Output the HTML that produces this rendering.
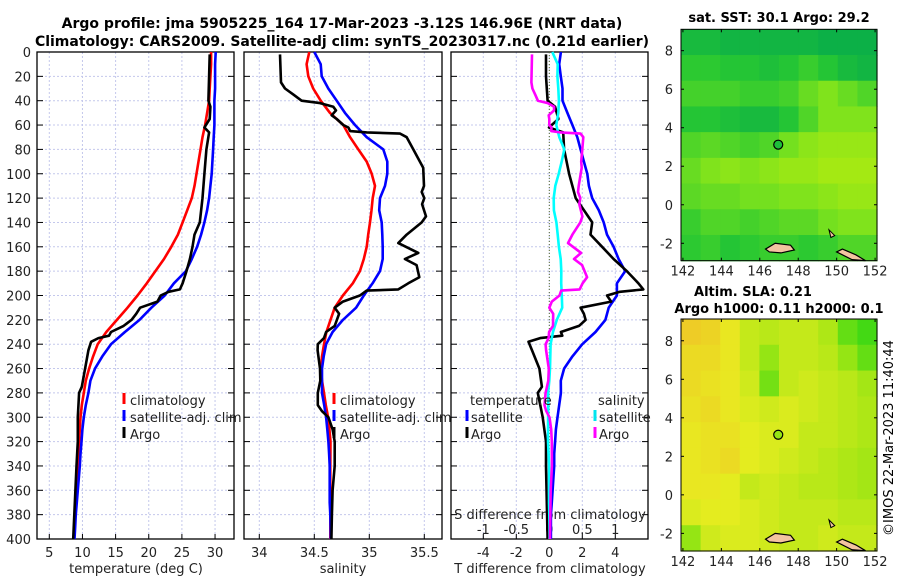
<!DOCTYPE html>
<html><head><meta charset="utf-8">
<style>
html,body{margin:0;padding:0;background:#fff;}
svg{display:block;font-family:"DejaVu Sans","Liberation Sans",sans-serif;}
</style></head>
<body>
<svg id="chart" width="900" height="580" viewBox="0 0 900 580" xmlns="http://www.w3.org/2000/svg">
<text x="342" y="28" font-size="14" font-weight="bold" text-anchor="middle">Argo profile: jma 5905225_164 17-Mar-2023 -3.12S 146.96E (NRT data)</text>
<text x="342" y="46" font-size="14" font-weight="bold" text-anchor="middle">Climatology: CARS2009. Satellite-adj clim: synTS_20230317.nc (0.21d earlier)</text>
<text x="779" y="22" font-size="13" font-weight="bold" text-anchor="middle">sat. SST: 30.1 Argo: 29.2</text>
<text x="753" y="296" font-size="13" font-weight="bold" text-anchor="middle">Altim. SLA: 0.21</text>
<text x="779" y="313" font-size="13" font-weight="bold" text-anchor="middle">Argo h1000: 0.11 h2000: 0.1</text>
<text x="893" y="438" font-size="13" text-anchor="middle" transform="rotate(-90 893 438)">©IMOS 22-Mar-2023 11:40:44</text>
<g id="layer"></g>
</svg>
<script>
// ---- data ----
const gridDepths = [0,10,20,30,40,50,60,70,80,90,100,110,120,130,140,150,160,170,180,190,200,210,220,230,240,250,260,270,280,290,300,310,320,330,340,350,360,370,380,390,400];
const climT = [29.4,29.4,29.3,29.2,29.1,28.8,28.5,28.1,27.8,27.5,27.2,26.9,26.5,25.8,25.1,24.4,23.4,22.3,21.0,19.7,18.3,16.8,15.2,13.6,12.3,11.6,11.0,10.5,10.2,9.9,9.7,9.6,9.5,9.4,9.3,9.2,9.1,9.0,8.9,8.8,8.7];
const satT = [30.1,30.0,30.0,30.0,29.9,29.9,29.9,29.8,29.7,29.6,29.5,29.3,29.1,28.8,28.4,27.9,27.3,26.5,25.6,23.8,22.4,20.4,18.6,16.4,14.3,13.0,11.9,11.2,10.9,10.5,10.2,10.0,9.85,9.7,9.6,9.45,9.3,9.15,9.0,8.9,8.8];
const climS = [34.455,34.43,34.445,34.49,34.558,34.643,34.764,34.825,34.9,34.976,35.022,35.052,35.031,35.02,35.006,34.99,34.976,34.95,34.915,34.85,34.76,34.685,34.647,34.61,34.588,34.57,34.56,34.57,34.588,34.605,34.625,34.637,34.647,34.646,34.645,34.645,34.645,34.645,34.645,34.645,34.645];
const satS = [34.5,34.558,34.567,34.627,34.704,34.779,34.87,34.976,35.127,35.164,35.164,35.143,35.097,35.09,35.113,35.118,35.122,35.122,35.097,35.03,34.95,34.88,34.76,34.666,34.607,34.585,34.57,34.57,34.57,34.59,34.607,34.618,34.628,34.635,34.64,34.64,34.64,34.64,34.645,34.648,34.65];
const argoTDepths = [2,20,40,45,55,62,66,80,100,120,140,150,160,170,180,190,195,197,200,205,210,215,220,225,230,233,235,238,245,260,275,280,300,320,340,400];
const argoT = [29.2,29.1,29.0,29.3,29.2,28.4,29.1,28.7,28.4,28.1,27.7,26.9,26.6,26.2,25.7,25.1,24.7,23.0,21.8,21.3,18.7,18.1,17.4,16.2,14.3,14.0,12.4,11.3,10.9,10.4,9.9,9.5,9.3,9.3,9.1,8.6];
const argoSDepths = [2,25,30,35,40,42,45,48,52,55,60,62,65,66,67,70,80,90,95,110,115,120,125,135,140,150,157,165,170,175,185,190,195,196,200,205,210,215,225,230,235,240,245,260,270,280,290,295,300,310,320,340,360,380,400];
const argoS = [34.188,34.197,34.234,34.31,34.385,34.552,34.673,34.697,34.658,34.704,34.764,34.81,34.825,34.976,35.28,35.34,35.4,35.46,35.49,35.497,35.476,35.5,35.48,35.515,35.476,35.34,35.264,35.445,35.324,35.43,35.455,35.355,35.264,34.976,34.915,34.76,34.685,34.725,34.685,34.607,34.588,34.532,34.53,34.552,34.555,34.532,34.532,34.57,34.628,34.666,34.685,34.685,34.666,34.66,34.655];
const depthTicks = [0,20,40,60,80,100,120,140,160,180,200,220,240,260,280,300,320,340,360,380,400];
const tempTicks = [5,10,15,20,25,30];
const salTicks = [34,34.5,35,35.5];
const tdiffTicks = [-4,-2,0,2,4];
const sdiffTicks = [-1,-0.5,0,0.5,1];
const sdiffLabels = ["-1","-0.5","0","0.5","1"];
const lonTicks = [142,144,146,148,150,152];
const latTicks = [-2,0,2,4,6,8];
const sstGrid = [
 [0.2,0.2,0.15,0.15,0.15,0.15,0.15,0.1,0.1,0.1],
 [0.35,0.35,0.3,0.3,0.25,0.3,0.4,0.3,0.2,0.15],
 [0.45,0.45,0.45,0.4,0.4,0.45,0.6,0.7,0.6,0.5],
 [0.3,0.3,0.25,0.2,0.2,0.3,0.5,0.7,0.7,0.7],
 [0.5,0.55,0.5,0.45,0.5,0.65,0.75,0.8,0.8,0.8],
 [0.6,0.7,0.75,0.7,0.75,0.8,0.8,0.85,0.85,0.85],
 [0.55,0.6,0.6,0.65,0.65,0.7,0.7,0.75,0.8,0.8],
 [0.4,0.5,0.5,0.45,0.5,0.55,0.55,0.65,0.7,0.7],
 [0.35,0.4,0.3,0.35,0.4,0.4,0.35,0.4,0.5,0.5]];
const slaGrid = [
 [0.9,0.85,0.7,0.5,0.45,0.5,0.5,0.4,0.15,0.05],
 [0.8,0.8,0.7,0.5,0.3,0.5,0.5,0.45,0.3,0.15],
 [0.8,0.75,0.7,0.55,0.2,0.5,0.55,0.5,0.45,0.35],
 [0.75,0.8,0.7,0.6,0.55,0.6,0.55,0.5,0.45,0.4],
 [0.7,0.75,0.75,0.65,0.6,0.6,0.5,0.5,0.45,0.4],
 [0.7,0.75,0.8,0.65,0.6,0.55,0.5,0.45,0.4,0.35],
 [0.7,0.7,0.65,0.5,0.55,0.5,0.45,0.45,0.4,0.35],
 [0.6,0.65,0.65,0.6,0.55,0.5,0.5,0.5,0.45,0.45],
 [0.3,0.55,0.6,0.6,0.55,0.5,0.5,0.55,0.5,0.5]];
const argoLon = 146.96;
const argoLat = 3.12;

// ---- helpers ----
const NS = "http://www.w3.org/2000/svg";
const layer = document.getElementById('layer');
function mk(tag, attrs, parent){
  const e = document.createElementNS(NS, tag);
  for (const k in attrs) e.setAttribute(k, attrs[k]);
  (parent||layer).appendChild(e);
  return e;
}
function interp(xs, ys, x){
  if (x <= xs[0]) return ys[0];
  for (let i=1;i<xs.length;i++){ if (x <= xs[i]){ const t=(x-xs[i-1])/(xs[i]-xs[i-1]); return ys[i-1]+t*(ys[i]-ys[i-1]); } }
  return ys[ys.length-1];
}
const yTop = 52, yBot = 539;
const yD = d => yTop + d*(yBot-yTop)/400;
const P1 = {l:37,r:234}, P2 = {l:244,r:442}, P3 = {l:451,r:648};
const xT = t => 49.3 + (t-5)*6.63;
const xS = s => 314.3 + (s-34.5)*110;
const xTd = t => 549.3 + t*16.5;
const xSd = s => 549.3 + s*66;

function frame(p, name){
  // grid
  const g = mk('g', {});
  
  
  depthTicks.forEach(d=>{
    if (d>0 && d<400) mk('line',{x1:p.l,x2:p.r,y1:yD(d),y2:yD(d),stroke:'#c4c8ec','stroke-width':1,'stroke-dasharray':'2,2'},g);
    mk('line',{x1:p.l,x2:p.l+6,y1:yD(d),y2:yD(d),stroke:'#000','stroke-width':1},g);
    mk('line',{x1:p.r-6,x2:p.r,y1:yD(d),y2:yD(d),stroke:'#000','stroke-width':1},g);
  });
  const r = mk('rect',{x:p.l,y:yTop,width:p.r-p.l,height:yBot-yTop,fill:'none',stroke:'#000','stroke-width':1.3});
  
  
}
function vgrid(xs, p){
  xs.forEach(x=>{
    mk('line',{x1:x,x2:x,y1:yTop,y2:yBot,stroke:'#c4c8ec','stroke-width':1,'stroke-dasharray':'2,2'});
    mk('line',{x1:x,x2:x,y1:yBot-5,y2:yBot,stroke:'#000','stroke-width':1});
  });
}
function poly(depths, vals, fx, color, name, w){
  const pts = depths.map((d,i)=>fx(vals[i]).toFixed(1)+','+yD(d).toFixed(1)).join(' ');
  const e = mk('polyline',{points:pts,fill:'none',stroke:color,'stroke-width':w||2.6,'stroke-linejoin':'round'});
  
  
}
function txt(x,y,s,opts,name){
  const e = mk('text',Object.assign({x:x,y:y,'font-size':13,fill:'#222'},opts||{}));
  e.textContent = s;
  
  
  return e;
}
function legendMark(x,y,color,name){
  const e = mk('line',{x1:x,x2:x,y1:y-12,y2:y-1,stroke:color,'stroke-width':3});
  
  
}

// ---- panel 1: temperature ----
vgrid(tempTicks.map(xT), P1);
frame(P1, 'temperature-panel');
depthTicks.forEach(d=>txt(31, yD(d)+5, String(d), {'text-anchor':'end'}, 'depth-tick-label'));
tempTicks.forEach(t=>txt(xT(t), 557, String(t), {'text-anchor':'middle'}, 'temperature-tick-label'));
txt(136, 573, 'temperature (deg C)', {'text-anchor':'middle'}, 'temperature-axis-title');
poly(gridDepths, climT, xT, '#ff0000', 'temperature-climatology-line');
poly(gridDepths, satT, xT, '#0000ff', 'temperature-satellite-line');
poly(argoTDepths, argoT, xT, '#000000', 'temperature-argo-line');
legendMark(124,405,'#ff0000','legend-climatology-marker');
txt(130,405,'climatology',{},'legend-climatology');
legendMark(124,422,'#0000ff','legend-satellite-marker');
txt(130,422,'satellite-adj. clim',{},'legend-satellite-adj-clim');
legendMark(124,439,'#000','legend-argo-marker');
txt(130,439,'Argo',{},'legend-argo');

// ---- panel 2: salinity ----
vgrid(salTicks.map(xS), P2);
frame(P2, 'salinity-panel');
salTicks.forEach(s=>txt(xS(s), 557, String(s), {'text-anchor':'middle'}, 'salinity-tick-label'));
txt(343, 573, 'salinity', {'text-anchor':'middle'}, 'salinity-axis-title');
poly(gridDepths, climS, xS, '#ff0000', 'salinity-climatology-line');
poly(gridDepths, satS, xS, '#0000ff', 'salinity-satellite-line');
poly(argoSDepths, argoS, xS, '#000000', 'salinity-argo-line');
legendMark(334,405,'#ff0000','legend2-climatology-marker');
txt(340,405,'climatology',{},'legend2-climatology');
legendMark(334,422,'#0000ff','legend2-satellite-marker');
txt(340,422,'satellite-adj. clim',{},'legend2-satellite-adj-clim');
legendMark(334,439,'#000','legend2-argo-marker');
txt(340,439,'Argo',{},'legend2-argo');

// ---- panel 3: differences ----
vgrid(tdiffTicks.map(xTd), P3);
frame(P3, 'difference-panel');
const zl = mk('line',{x1:xTd(0),x2:xTd(0),y1:yTop,y2:yBot,stroke:'#556b2f','stroke-width':1,'stroke-dasharray':'1,2'});


tdiffTicks.forEach(t=>txt(xTd(t), 557, String(t), {'text-anchor':'middle'}, 'tdiff-tick-label'));
sdiffTicks.forEach((s,i)=>txt(xSd(s), 534, sdiffLabels[i], {'text-anchor':'middle'}, 'sdiff-tick-label'));
txt(550, 519, 'S difference from climatology', {'text-anchor':'middle'}, 'sdiff-axis-title');
txt(550, 573, 'T difference from climatology', {'text-anchor':'middle'}, 'tdiff-axis-title');
const satTd = gridDepths.map((d,i)=>satT[i]-climT[i]);
const satSd = gridDepths.map((d,i)=>satS[i]-climS[i]);
const argoTd = argoTDepths.map((d,i)=>argoT[i]-interp(gridDepths, climT, d));
const argoSd = argoSDepths.map((d,i)=>argoS[i]-interp(gridDepths, climS, d));
poly(gridDepths, satTd, xTd, '#0000ff', 'tdiff-satellite-line');
poly(argoTDepths, argoTd, xTd, '#000000', 'tdiff-argo-line');
poly(gridDepths, satSd, xSd, '#00ffff', 'sdiff-satellite-line');
poly(argoSDepths, argoSd, xSd, '#ff00ff', 'sdiff-argo-line');
txt(470,405,'temperature',{},'legend3-temperature-heading');
legendMark(467,422,'#0000ff','legend3-tsat-marker');
txt(471,422,'satellite',{},'legend3-temperature-satellite');
legendMark(467,439,'#000','legend3-targo-marker');
txt(471,439,'Argo',{},'legend3-temperature-argo');
txt(598,405,'salinity',{},'legend3-salinity-heading');
legendMark(595,422,'#00e5ee','legend3-ssat-marker');
txt(599,422,'satellite',{},'legend3-salinity-satellite');
legendMark(595,439,'#ff00ff','legend3-sargo-marker');
txt(599,439,'Argo',{},'legend3-salinity-argo');

// ---- maps ----
function lerpColor(stops, v){
  v = Math.max(0, Math.min(1, v));
  const n = stops.length-1, i = Math.min(n-1, Math.floor(v*n)), t = v*n - i;
  const a = stops[i], b = stops[i+1];
  return 'rgb('+a.map((c,k)=>Math.round(c+(b[k]-c)*t)).join(',')+')';
}
const sstStops = [[0,165,80],[40,200,50],[120,225,30],[200,240,10]];
const slaStops = [[50,215,20],[160,230,20],[232,236,32],[240,190,40]];
function drawMap(box, grid, stops, name){
  const lonX = lo => box.l + (lo-141.9)*(box.r-box.l)/10.2;
  const latY = la => box.t + (box.lat0-la)*19.26;
  const g = mk('g',{});
  
  
  const rows = grid.length, cols = grid[0].length;
  const cw = (box.r-box.l)/cols, ch = (box.b-box.t)/rows;
  grid.forEach((row,ri)=>row.forEach((v,ci)=>{
    const c = mk('rect',{x:(box.l+ci*cw).toFixed(2),y:(box.t+ri*ch).toFixed(2),width:(cw+0.6).toFixed(2),height:(ch+0.6).toFixed(2),fill:lerpColor(stops,v)},g);
    
    
  }));
  // islands
  const isl1 = mk('path',{d:`M${lonX(146.3)},${latY(-2.3)} L${lonX(146.8)},${latY(-2.0)} L${lonX(147.6)},${latY(-2.1)} L${lonX(147.8)},${latY(-2.35)} L${lonX(147.1)},${latY(-2.5)} L${lonX(146.5)},${latY(-2.45)} Z`,fill:'#f3c4a0',stroke:'#000','stroke-width':1.2});
  
  
  const isl2 = mk('path',{d:`M${lonX(150.0)},${latY(-2.45)} L${lonX(150.3)},${latY(-2.3)} L${lonX(151.0)},${latY(-2.6)} L${lonX(151.5)},${latY(-2.9)} L${lonX(150.8)},${latY(-2.85)} Z`,fill:'#f3c4a0',stroke:'#000','stroke-width':1.2});
  
  
  const isl3 = mk('path',{d:`M${lonX(149.6)},${latY(-1.3)} L${lonX(149.9)},${latY(-1.6)} L${lonX(149.7)},${latY(-1.7)} Z`,fill:'#f3c4a0',stroke:'#000','stroke-width':1});
  
  
  const fr = mk('rect',{x:box.l,y:box.t,width:box.r-box.l,height:box.b-box.t,fill:'none',stroke:'#000','stroke-width':1});
  
  
  lonTicks.forEach(lo=>{
    mk('line',{x1:lonX(lo),x2:lonX(lo),y1:box.t,y2:box.t+3,stroke:'#000'});
    mk('line',{x1:lonX(lo),x2:lonX(lo),y1:box.b-3,y2:box.b,stroke:'#000'});
    txt(lonX(lo), box.b+15, String(lo), {'text-anchor':'middle'}, name+'-lon-tick-label');
  });
  latTicks.forEach(la=>{
    mk('line',{x1:box.l,x2:box.l+3,y1:latY(la),y2:latY(la),stroke:'#000'});
    mk('line',{x1:box.r-3,x2:box.r,y1:latY(la),y2:latY(la),stroke:'#000'});
    txt(box.l-8, latY(la)+5, String(la), {'text-anchor':'end'}, name+'-lat-tick-label');
  });
  const m = mk('circle',{cx:lonX(argoLon),cy:latY(argoLat),r:4.5,fill:lerpColor(stops,name==='sst-map'?0.25:0.3),stroke:'#000','stroke-width':1.2});
  
  
}
drawMap({l:681,r:877,t:29.3,b:260.7,lat0:9.11}, sstGrid, sstStops, 'sst-map');
drawMap({l:681,r:877,t:319,b:551,lat0:9.13}, slaGrid, slaStops, 'sla-map');
</script>
</body></html>
